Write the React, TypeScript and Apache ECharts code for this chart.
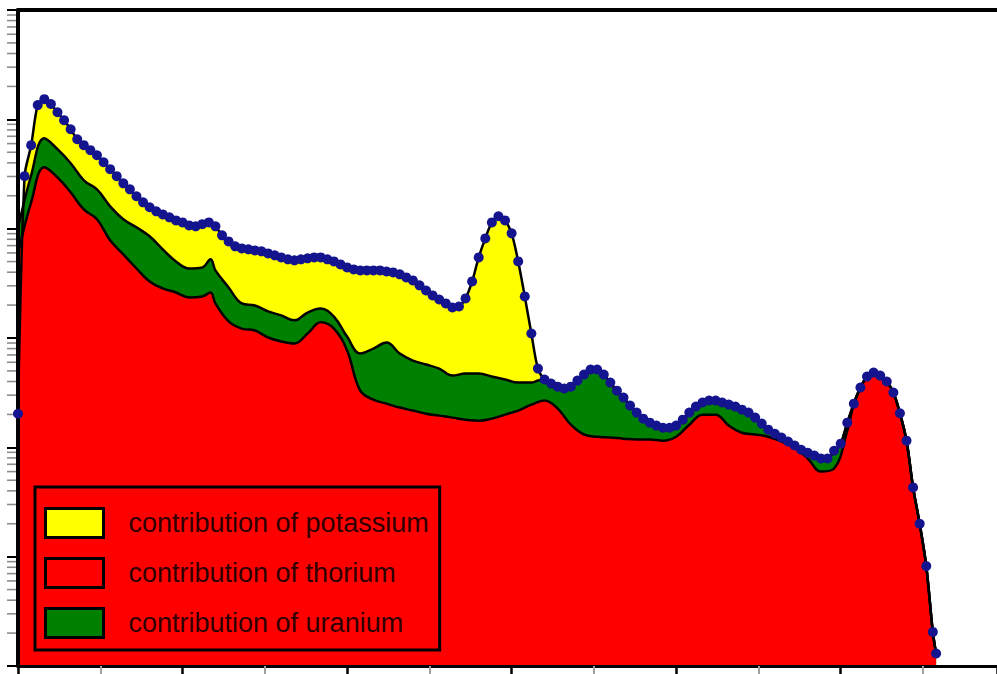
import React, { useEffect, useRef } from "react";
import * as echarts from "echarts";

// ---- axes -------------------------------------------------------------
const X_MIN_KEV = 0;
const X_MAX_KEV = 2975;
const X_MAJOR_TICK_KEV = 500;
const Y_MIN_COUNTS = 1;
const Y_MAX_COUNTS = 1e6;
const Y_DECADES = [1, 10, 100, 1000, 10000, 100000];
const Y_MINOR_MULTIPLIERS = [2, 3, 4, 5, 6, 7, 8, 9];

// ---- legend -----------------------------------------------------------
const NAME_K = "contribution of potassium";
const NAME_TH = "contribution of thorium";
const NAME_U = "contribution of uranium";

// ---- measured spectrum (20 keV channels, starting at 0 keV) ------------
const measuredChannelKeV = 20;
const measuredCounts = [
  203, 30200, 58000, 135000, 153000, 138000, 116000, 98200, 81200, 65800,
  58000, 52200, 46900, 40500, 35000, 30200, 26000, 22900, 19800, 17400,
  15700, 14400, 13500, 12700, 11900, 11400, 10700, 10500, 11000, 11400,
  10500, 8690, 7650, 6890, 6600, 6470, 6330, 6200, 5940, 5700,
  5460, 5240, 5130, 5240, 5350, 5460, 5460, 5240, 5020, 4710,
  4420, 4240, 4150, 4150, 4150, 4150, 4060, 3980, 3820, 3580,
  3360, 3030, 2720, 2450, 2250, 2070, 1900, 1940, 2300, 3290,
  5460, 8150, 11400, 13000, 11900, 9060, 5020, 2400, 1100, 525,
  417, 383, 359, 345, 359, 408, 463, 515, 515, 463,
  391, 330, 285, 241, 208, 183, 168, 158, 151, 151,
  158, 179, 208, 236, 257, 268, 268, 257, 246, 236,
  221, 208, 187, 165, 145, 133, 123, 113, 104, 95,
  89, 84, 79, 79, 93, 108, 168, 251, 352, 444,
  483, 453, 400, 317, 205, 115, 43, 20, 8.2, 2.05,
];
const measuredTailKeV = 2790;
const measuredTailCount = 1.3;

// ---- thorium + uranium level (below 1600 keV; above it equals measured) --
const thUKeV = [
  0, 40, 80, 120, 160, 200, 240, 280, 320, 360, 400, 440, 480, 520, 560, 585,
  600, 640, 680, 720, 760, 800, 840, 880, 920, 960, 1000, 1040, 1080, 1120,
  1160, 1200, 1240, 1280, 1320, 1360, 1400, 1440, 1480, 1520, 1560, 1580,
];
const thUCounts = [
  10100, 30800, 67200, 53300, 39700, 27700, 22900, 16000, 12200, 10300, 8510,
  6470, 5020, 4330, 4420, 5240, 4150, 2900, 2070, 1980, 1750, 1610, 1450, 1710,
  1860, 1570, 1030, 721, 801, 909, 721, 622, 572, 525, 453, 473, 473, 444, 417,
  391, 391, 408,
];
const thUMergeKeV = 1600;

// ---- thorium level (below 2540 keV; above it equals measured) -----------
const thKeV = [
  0, 40, 80, 120, 160, 200, 240, 280, 320, 360, 400, 440, 480, 520, 560, 585,
  600, 640, 680, 720, 760, 800, 840, 880, 920, 960, 1000, 1040, 1080, 1120,
  1160, 1200, 1240, 1280, 1320, 1360, 1400, 1440, 1480, 1520, 1560, 1600, 1640,
  1680, 1720, 1760, 1800, 1840, 1880, 1920, 1960, 2000, 2040, 2080, 2120, 2160,
  2200, 2240, 2280, 2320, 2360, 2400, 2440, 2480, 2520,
];
const thCounts = [
  5940, 17400, 36500, 29500, 21500, 15000, 12200, 7820, 5820, 4330, 3290, 2840,
  2610, 2350, 2400, 2610, 2070, 1420, 1220, 1170, 1010, 929, 890, 1100, 1390,
  1220, 768, 330, 273, 251, 231, 217, 203, 195, 187, 179, 175, 183, 199, 217,
  246, 268, 226, 161, 131, 125, 123, 120, 118, 118, 115, 125, 161, 199, 199,
  158, 136, 131, 125, 113, 99, 79, 60, 64, 142,
];
const thMergeKeV = 2540;

const COLOR_K = "#ffff00";
const COLOR_TH = "#ff0000";
const COLOR_U = "#008000";
const COLOR_DOT = "#14148e";

export default function App() {
  const ref = useRef<HTMLDivElement>(null);

  useEffect(() => {
    if (!ref.current) return;
    const chart = echarts.init(ref.current, null, { renderer: "svg" });

    const measured: number[][] = measuredCounts.map((c, i) => [i * measuredChannelKeV, c]);
    measured.push([measuredTailKeV, measuredTailCount]);

    const thU: number[][] = thUKeV.map((e, i) => [e, thUCounts[i]]).concat(
      measured.filter((p) => p[0] >= thUMergeKeV)
    );
    const th: number[][] = thKeV.map((e, i) => [e, thCounts[i]]).concat(
      measured.filter((p) => p[0] >= thMergeKeV)
    );

    const minorTicks: number[][] = [];
    Y_DECADES.forEach((d) => Y_MINOR_MULTIPLIERS.forEach((m) => minorTicks.push([X_MIN_KEV, d * m])));

    const areaSeries = (name: string, data: number[][], color: string, smooth: number) => ({
      name,
      type: "line",
      data,
      smooth,
      showSymbol: false,
      symbol: "none",
      lineStyle: { color: "#000", width: 2.5 },
      itemStyle: { color },
      areaStyle: { color, opacity: 1, origin: "start" },
      z: 2,
    });

    chart.setOption({
      animation: false,
      backgroundColor: "#ffffff",
      grid: { left: 18, right: 0, top: 10, bottom: 8, containLabel: false },
      legend: {
        orient: "vertical",
        left: 35,
        top: 487,
        icon: "rect",
        itemWidth: 58,
        itemHeight: 29,
        itemGap: 18,
        padding: [20, 11, 11, 9],
        borderColor: "#000",
        borderWidth: 3,
        backgroundColor: "transparent",
        selectedMode: false,
        textStyle: {
          fontFamily: "Liberation Sans, Arial, sans-serif",
          fontSize: 27,
          color: "#2e0000",
          padding: [0, 0, 0, 20],
        },
        data: [
          { name: NAME_K, itemStyle: { color: COLOR_K, borderColor: "#000", borderWidth: 3 } },
          { name: NAME_TH, itemStyle: { color: COLOR_TH, borderColor: "#000", borderWidth: 3 } },
          { name: NAME_U, itemStyle: { color: COLOR_U, borderColor: "#000", borderWidth: 3 } },
        ],
      },
      xAxis: [
        {
          type: "value",
          min: X_MIN_KEV,
          max: X_MAX_KEV,
          interval: X_MAJOR_TICK_KEV,
          position: "bottom",
          z: 10,
          axisLine: { show: true, onZero: false, lineStyle: { color: "#000", width: 3 } },
          axisTick: { show: true, length: 10, lineStyle: { color: "#000", width: 2.5 } },
          minorTick: { show: true, splitNumber: 2, length: 10, lineStyle: { color: "#a0a0a0", width: 2 } },
          axisLabel: { show: false },
          splitLine: { show: false },
        },
        {
          type: "value",
          min: X_MIN_KEV,
          max: X_MAX_KEV,
          position: "top",
          z: 10,
          axisLine: { show: true, onZero: false, lineStyle: { color: "#000", width: 4 } },
          axisTick: { show: false },
          axisLabel: { show: false },
          splitLine: { show: false },
        },
      ],
      yAxis: {
        type: "log",
        logBase: 10,
        min: Y_MIN_COUNTS,
        max: Y_MAX_COUNTS,
        splitNumber: 6,
        z: 10,
        axisLine: { show: true, onZero: false, lineStyle: { color: "#000", width: 4 } },
        axisTick: { show: true, length: 11, lineStyle: { color: "#000", width: 2 } },
        axisLabel: { show: false },
        splitLine: { show: false },
      },
      series: [
        areaSeries(NAME_K, measured, COLOR_K, 0.3),
        areaSeries(NAME_U, thU, COLOR_U, 0.4),
        areaSeries(NAME_TH, th, COLOR_TH, 0.4),
        {
          name: "measured spectrum",
          type: "scatter",
          data: measured,
          symbol: "circle",
          symbolSize: 10,
          clip: false,
          itemStyle: { color: COLOR_DOT, opacity: 1 },
          z: 12,
        },
        {
          name: "y minor ticks",
          type: "custom",
          clip: false,
          silent: true,
          z: 11,
          data: minorTicks,
          renderItem: (_params: any, api: any) => {
            const p = api.coord([api.value(0), api.value(1)]);
            return {
              type: "line",
              shape: { x1: p[0] - 11, y1: p[1], x2: p[0] - 2, y2: p[1] },
              style: { stroke: "#8c8c8c", lineWidth: 1.6 },
            };
          },
        },
      ],
    });

    return () => chart.dispose();
  }, []);

  return (
    <div
      ref={ref}
      style={{ position: "absolute", left: 0, top: 0, width: 997, height: 674 }}
    />
  );
}
